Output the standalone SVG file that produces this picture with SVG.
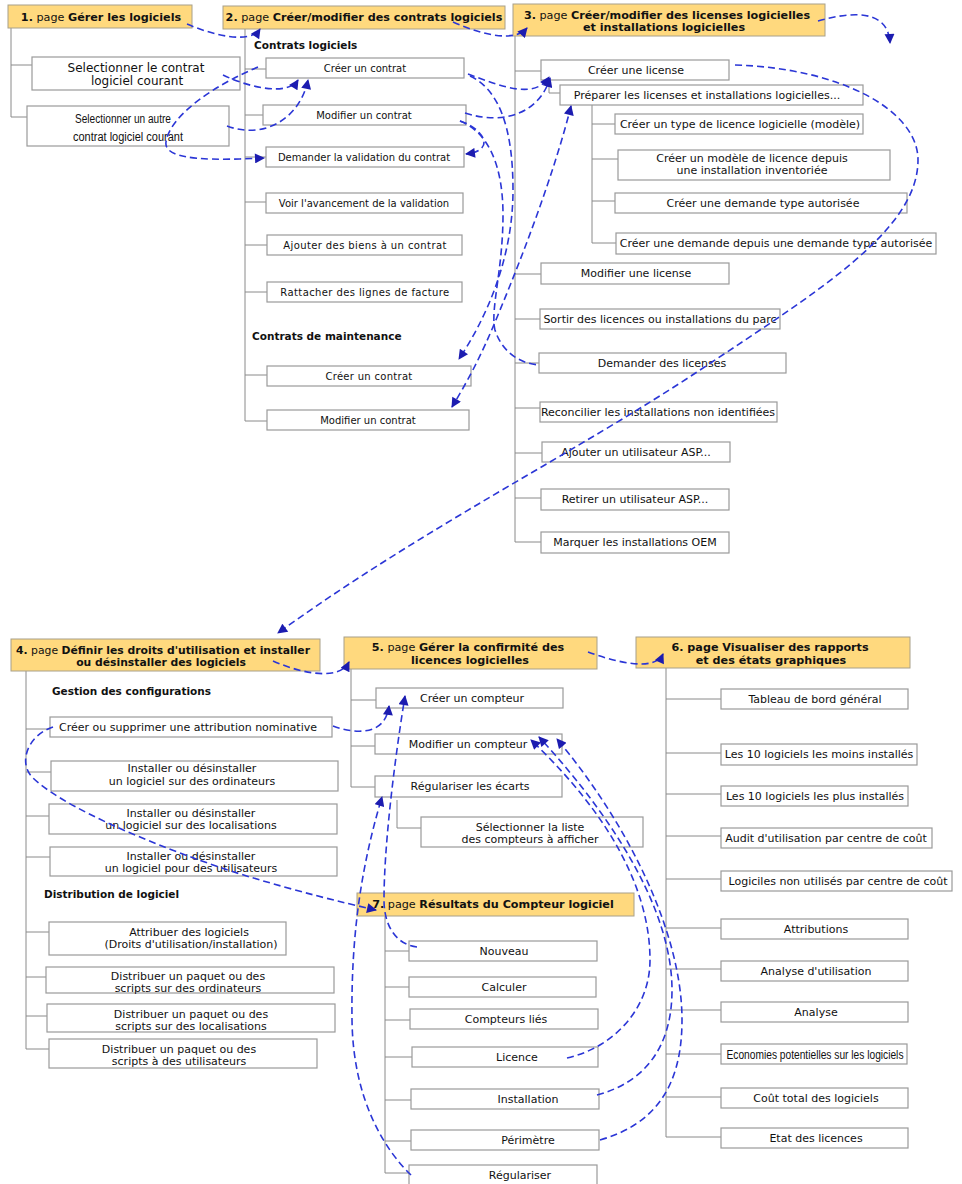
<svg xmlns="http://www.w3.org/2000/svg" width="962" height="1184" viewBox="0 0 962 1184">
<style>
.hd{fill:#FFD97E;stroke:#A8A08A;stroke-width:1}
.bx{fill:#fff;stroke:#9a9a9a;stroke-width:1.2}
text{font-family:"DejaVu Sans",Verdana,sans-serif;font-size:11px;fill:#111;text-anchor:middle}
.h{font-size:11.2px}
.h4{font-size:10.8px}
.b{font-weight:bold}
.sec{font-weight:bold;font-size:10.5px;text-anchor:start}
.f10{font-size:10px}
.f12{font-size:12px}
.nar{font-family:"Liberation Sans",Arial,sans-serif;font-size:12.5px}
.tree{fill:none;stroke:#8a8a8a;stroke-width:1}
.cn{fill:none;stroke:#2b36d6;stroke-width:1.6;stroke-dasharray:7 4}
.ae{marker-end:url(#ah)}
.as{marker-start:url(#ahs)}
</style>
<defs>
<marker id="ah" viewBox="0 0 10 10" refX="9" refY="5" markerWidth="11" markerHeight="10" markerUnits="userSpaceOnUse" orient="auto"><path d="M0,0 L10,5 L0,10 z" fill="#1c1cb0"/></marker>
<marker id="ahs" viewBox="0 0 10 10" refX="9" refY="5" markerWidth="11" markerHeight="10" markerUnits="userSpaceOnUse" orient="auto-start-reverse"><path d="M0,0 L10,5 L0,10 z" fill="#1c1cb0"/></marker>
</defs>
<rect width="962" height="1184" fill="#fff"/>

<g id="tree">
<path class="tree" d="M11,28 V117 H27 M11,65 H32"/>
<path class="tree" d="M245,29 V421 H267 M245,69 H266 M245,115 H263 M245,157 H266 M245,202 H266 M245,245 H267 M245,292 H267 M245,375 H267"/>
<path class="tree" d="M515,36 V542 H541 M515,71 H541 M515,274 H541 M515,319 H540 M515,363 H539 M515,408 H540 M515,453 H542 M515,498 H541"/>
<path class="tree" d="M549,80 V93 H560 M592,105 V243 H616 M592,124 H615 M592,159 H618 M592,201 H615"/>
<path class="tree" d="M26,671 V1049 H49 M26,729 H50 M26,772 H51 M26,816 H49 M26,857 H50 M26,932 H49 M26,977 H46 M26,1016 H47"/>
<path class="tree" d="M351,669 V787 H375 M351,700 H376 M351,746 H375 M397,800 V828 H421"/>
<path class="tree" d="M666,668 V1137 H721 M666,699 H721 M666,753 H721 M666,794 H721 M666,836 H721 M666,879 H721 M666,928 H721 M666,969 H721 M666,1010 H721 M666,1054 H721 M666,1097 H721"/>
<path class="tree" d="M385,916 V1173 H409 M385,951 H409 M385,987 H409 M385,1020 H410 M385,1057 H412 M385,1100 H411 M385,1141 H411"/>
</g>

<g id="page1">
<rect class="hd" x="8" y="5" width="184" height="23"/>
<text class="h" x="101" y="21"><tspan class="b">1.</tspan> page <tspan class="b">Gérer les logiciels</tspan></text>
</g>
<g id="p1-select"><rect class="bx" x="32" y="57" width="208" height="33"/><text class="f12" x="136" y="72">Selectionner le contrat</text><text class="f12" x="137" y="85">logiciel courant</text></g>
<g id="p1-select-other"><rect class="bx" x="27" y="106" width="202" height="40"/><text class="nar" x="123" y="123" textLength="96" lengthAdjust="spacingAndGlyphs">Selectionner un autre</text><text class="nar" x="128" y="141" textLength="110" lengthAdjust="spacingAndGlyphs">contrat logiciel courant</text></g>

<g id="page2">
<rect class="hd" x="223" y="6" width="282" height="23"/>
<text class="h" x="364" y="21"><tspan class="b">2.</tspan> page <tspan class="b">Créer/modifier des contrats logiciels</tspan></text>
<text class="sec" x="254" y="49">Contrats logiciels</text>
<text class="sec" x="252" y="340">Contrats de maintenance</text>
</g>
<g id="p2-creer"><rect class="bx" x="266" y="58" width="198" height="20"/><text class="f10" x="365" y="72">Créer un contrat</text></g>
<g id="p2-modifier"><rect class="bx" x="263" y="105" width="203" height="20"/><text class="f10" x="364" y="119">Modifier un contrat</text></g>
<g id="p2-demander"><rect class="bx" x="266" y="147" width="198" height="20"/><text class="f10" x="364" y="161">Demander la validation du contrat</text></g>
<g id="p2-voir"><rect class="bx" x="266" y="193" width="197" height="20"/><text class="f10" x="364" y="207">Voir l'avancement de la validation</text></g>
<g id="p2-ajouter"><rect class="bx" x="267" y="235" width="195" height="20"/><text class="f10" x="365" y="249" letter-spacing="0.4">Ajouter des biens à un contrat</text></g>
<g id="p2-rattacher"><rect class="bx" x="267" y="282" width="195" height="20"/><text class="f10" x="365" y="296" letter-spacing="0.4">Rattacher des lignes de facture</text></g>
<g id="p2-m-creer"><rect class="bx" x="267" y="366" width="204" height="20"/><text class="f10" x="369" y="380" letter-spacing="0.3">Créer un contrat</text></g>
<g id="p2-m-modifier"><rect class="bx" x="267" y="410" width="202" height="20"/><text class="f10" x="368" y="424">Modifier un contrat</text></g>

<g id="page3">
<rect class="hd" x="513" y="4" width="312" height="32"/>
<text class="h" x="667" y="19"><tspan class="b">3.</tspan> page <tspan class="b">Créer/modifier des licenses logicielles</tspan></text>
<text class="h b" x="664" y="31">et installations logicielles</text>
</g>
<g id="p3-creer"><rect class="bx" x="541" y="60" width="188" height="20"/><text x="636" y="74">Créer une license</text></g>
<g id="p3-preparer"><rect class="bx" x="560" y="85" width="303" height="20"/><text x="707" y="99">Préparer les licenses et installations logicielles...</text></g>
<g id="p3-type"><rect class="bx" x="615" y="114" width="248" height="20"/><text x="740" y="128">Créer un type de licence logicielle (modèle)</text></g>
<g id="p3-modele"><rect class="bx" x="618" y="150" width="272" height="30"/><text x="752" y="162">Créer un modèle de licence depuis</text><text x="752" y="174">une installation inventoriée</text></g>
<g id="p3-demtype"><rect class="bx" x="615" y="193" width="292" height="20"/><text x="763" y="207">Créer une demande type autorisée</text></g>
<g id="p3-demdepuis"><rect class="bx" x="616" y="233" width="320" height="21"/><text x="776" y="247">Créer une demande depuis une demande type autorisée</text></g>
<g id="p3-modifier"><rect class="bx" x="541" y="263" width="188" height="21"/><text x="636" y="277">Modifier une license</text></g>
<g id="p3-sortir"><rect class="bx" x="540" y="309" width="240" height="20"/><text x="660" y="323">Sortir des licences ou installations du parc</text></g>
<g id="p3-demander"><rect class="bx" x="539" y="353" width="247" height="20"/><text x="662" y="367">Demander des licenses</text></g>
<g id="p3-reconcilier"><rect class="bx" x="540" y="402" width="237" height="20"/><text x="658" y="416">Reconcilier les installations non identifiées</text></g>
<g id="p3-ajouter"><rect class="bx" x="542" y="442" width="188" height="20"/><text x="636" y="456">Ajouter un utilisateur ASP...</text></g>
<g id="p3-retirer"><rect class="bx" x="541" y="489" width="188" height="21"/><text x="635" y="503">Retirer un utilisateur ASP...</text></g>
<g id="p3-oem"><rect class="bx" x="541" y="532" width="188" height="21"/><text x="635" y="546">Marquer les installations OEM</text></g>

<g id="page4">
<rect class="hd" x="11" y="639" width="309" height="32"/>
<text class="h4" x="163" y="654"><tspan class="b">4.</tspan> page <tspan class="b">Définir les droits d'utilisation et installer</tspan></text>
<text class="h4 b" x="161" y="666">ou désinstaller des logiciels</text>
<text class="sec" x="52" y="695">Gestion des configurations</text>
<text class="sec" x="44" y="898">Distribution de logiciel</text>
</g>
<g id="p4-attrib"><rect class="bx" x="50" y="717" width="282" height="20"/><text x="188" y="731">Créer ou supprimer une attribution nominative</text></g>
<g id="p4-ordi"><rect class="bx" x="51" y="761" width="287" height="30"/><text x="192" y="772">Installer ou désinstaller</text><text x="192" y="785">un logiciel sur des ordinateurs</text></g>
<g id="p4-loc"><rect class="bx" x="49" y="804" width="288" height="30"/><text x="191" y="817">Installer ou désinstaller</text><text x="191" y="829">un logiciel sur des localisations</text></g>
<g id="p4-util"><rect class="bx" x="50" y="847" width="287" height="29"/><text x="191" y="860">Installer ou désinstaller</text><text x="191" y="872">un logiciel pour des utilisateurs</text></g>
<g id="p4-attribuer"><rect class="bx" x="49" y="922" width="237" height="33"/><text x="189" y="936">Attribuer des logiciels</text><text x="191" y="948">(Droits d'utilisation/installation)</text></g>
<g id="p4-dist-ordi"><rect class="bx" x="46" y="967" width="288" height="26"/><text x="188" y="980">Distribuer un paquet ou des</text><text x="188" y="992">scripts sur des ordinateurs</text></g>
<g id="p4-dist-loc"><rect class="bx" x="47" y="1004" width="288" height="28"/><text x="191" y="1018">Distribuer un paquet ou des</text><text x="191" y="1030">scripts sur des localisations</text></g>
<g id="p4-dist-util"><rect class="bx" x="49" y="1039" width="268" height="29"/><text x="179" y="1053">Distribuer un paquet ou des</text><text x="179" y="1065">scripts à des utilisateurs</text></g>

<g id="page5">
<rect class="hd" x="344" y="637" width="253" height="32"/>
<text class="h" x="468" y="651"><tspan class="b">5.</tspan> page <tspan class="b">Gérer la confirmité des</tspan></text>
<text class="h b" x="470" y="664">licences logicielles</text>
</g>
<g id="p5-creer"><rect class="bx" x="376" y="688" width="187" height="20"/><text x="472" y="702">Créer un compteur</text></g>
<g id="p5-modifier"><rect class="bx" x="375" y="734" width="187" height="20"/><text x="468" y="748">Modifier un compteur</text></g>
<g id="p5-regulariser"><rect class="bx" x="375" y="776" width="187" height="21"/><text x="470" y="790">Régulariser les écarts</text></g>
<g id="p5-selection"><rect class="bx" x="421" y="817" width="222" height="30"/><text x="530" y="831">Sélectionner la liste</text><text x="530" y="843">des compteurs à afficher</text></g>

<g id="page6">
<rect class="hd" x="636" y="637" width="274" height="31"/>
<text class="h b" x="770" y="651">6. page Visualiser des rapports</text>
<text class="h b" x="771" y="664">et des états graphiques</text>
</g>
<g id="p6-tableau"><rect class="bx" x="721" y="689" width="187" height="20"/><text x="815" y="703">Tableau de bord général</text></g>
<g id="p6-moins"><rect class="bx" x="721" y="744" width="196" height="21"/><text x="819" y="758">Les 10 logiciels les moins installés</text></g>
<g id="p6-plus"><rect class="bx" x="721" y="786" width="187" height="20"/><text x="815" y="800">Les 10 logiciels les plus installés</text></g>
<g id="p6-audit"><rect class="bx" x="721" y="828" width="211" height="20"/><text x="826" y="842">Audit d'utilisation par centre de coût</text></g>
<g id="p6-nonutil"><rect class="bx" x="721" y="871" width="231" height="20"/><text x="838" y="885">Logiciles non utilisés par centre de coût</text></g>
<g id="p6-attributions"><rect class="bx" x="721" y="919" width="187" height="20"/><text x="816" y="933">Attributions</text></g>
<g id="p6-analyse-util"><rect class="bx" x="721" y="961" width="187" height="20"/><text x="816" y="975">Analyse d'utilisation</text></g>
<g id="p6-analyse"><rect class="bx" x="721" y="1002" width="187" height="20"/><text x="816" y="1016">Analyse</text></g>
<g id="p6-economies"><rect class="bx" x="721" y="1044" width="186" height="20"/><text class="nar" x="815" y="1059" font-size="11.5" textLength="177" lengthAdjust="spacingAndGlyphs">Economies potentielles sur les logiciels</text></g>
<g id="p6-cout"><rect class="bx" x="721" y="1088" width="187" height="20"/><text x="816" y="1102">Coût total des logiciels</text></g>
<g id="p6-etat"><rect class="bx" x="721" y="1128" width="187" height="20"/><text x="816" y="1142">Etat des licences</text></g>

<g id="page7">
<rect class="hd" x="357" y="893" width="277" height="23"/>
<text class="h" x="493" y="908"><tspan class="b">7.</tspan> page <tspan class="b">Résultats du Compteur logiciel</tspan></text>
</g>
<g id="p7-nouveau"><rect class="bx" x="409" y="941" width="188" height="20"/><text x="504" y="955">Nouveau</text></g>
<g id="p7-calculer"><rect class="bx" x="409" y="977" width="187" height="20"/><text x="504" y="991">Calculer</text></g>
<g id="p7-lies"><rect class="bx" x="410" y="1009" width="188" height="20"/><text x="506" y="1023">Compteurs liés</text></g>
<g id="p7-licence"><rect class="bx" x="412" y="1047" width="186" height="20"/><text x="517" y="1061">Licence</text></g>
<g id="p7-installation"><rect class="bx" x="411" y="1089" width="188" height="20"/><text x="528" y="1103">Installation</text></g>
<g id="p7-perimetre"><rect class="bx" x="411" y="1130" width="188" height="20"/><text x="528" y="1144">Périmètre</text></g>
<g id="p7-regulariser"><rect class="bx" x="409" y="1165" width="188" height="25"/><text x="520" y="1179">Régulariser</text></g>

<g id="connectors">
<path class="cn ae" d="M187,24 C215,36 250,44 260,29"/>
<path class="cn ae" d="M453,22 C485,36 515,42 527,28"/>
<path class="cn ae" d="M818,21 C850,12 888,8 890,43"/>
<path class="cn ae" d="M735,65 C840,68 918,110 918,160 C918,230 820,290 700,370 S420,530 278,633"/>
<path class="cn ae" d="M223,75 C250,88 288,96 298,80"/>
<path class="cn ae" d="M227,126 C265,140 300,118 308,80"/>
<path class="cn ae" d="M258,67 C215,85 170,115 166,142 C163,162 220,160 264,158"/>
<path class="cn ae" d="M468,74 C500,86 535,100 549,77"/>
<path class="cn ae" d="M465,113 C505,126 540,112 550,78"/>
<path class="cn ae" d="M460,121 C482,128 498,150 466,154"/>
<path class="cn ae" d="M470,76 C500,90 513,130 513,190 C513,260 485,320 459,359"/>
<path class="cn" d="M460,121 C488,132 503,165 503,215 C503,270 490,310 495,330 C502,352 520,364 540,365"/>
<path class="cn ae as" d="M571,106 C555,170 525,250 500,310 C480,360 465,385 452,407"/>
<path class="cn ae" d="M273,661 C305,675 340,680 349,662"/>
<path class="cn ae" d="M588,652 C615,662 655,672 663,654"/>
<path class="cn ae" d="M333,726 C352,733 385,738 389,706"/>
<path class="cn ae" d="M53,727 C28,735 18,762 32,777 C70,815 200,862 250,877 C300,892 340,902 376,910"/>
<path class="cn ae" d="M417,947 C398,945 384,928 384,900 C384,850 393,770 405,696"/>
<path class="cn ae" d="M411,1175 C385,1150 353,1100 352,1020 C351,940 360,870 382,797"/>
<path class="cn ae" d="M567,1058 C612,1048 650,1010 650,960 C650,890 610,815 531,740"/>
<path class="cn ae" d="M597,1095 C642,1083 672,1050 672,990 C672,915 620,825 539,737"/>
<path class="cn ae" d="M600,1140 C652,1125 682,1090 682,1020 C682,930 625,820 557,739"/>
</g>
</svg>
